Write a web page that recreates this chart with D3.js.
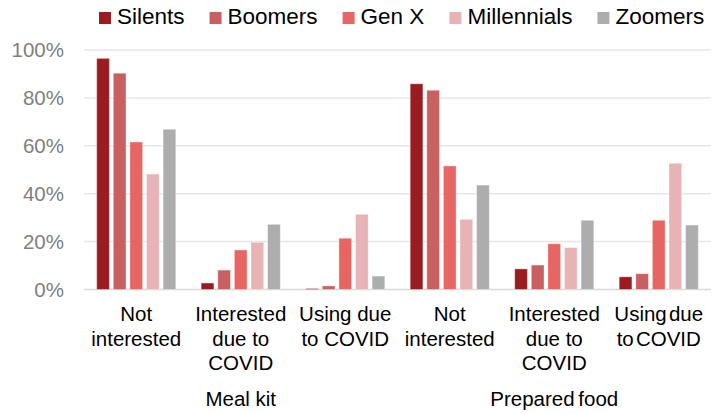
<!DOCTYPE html>
<html>
<head>
<meta charset="utf-8">
<script src="https://cdn.jsdelivr.net/npm/d3@7"></script>
<style>
    body { margin: 0; background: #fff; }
    text { font-family: Arial, "Liberation Sans", sans-serif; }
</style>
</head>
<body>
<div id="chart"></div>
<script>
// generations (series) and their colours
var generations = ["Silents", "Boomers", "Gen X", "Millennials", "Zoomers"];
var colors = ["#9a1c20", "#c86062", "#e76663", "#e8b3b5", "#adadad"];

// x categories, each one a list of text lines
var categories = [
    ["Not", "interested"],
    ["Interested", "due to", "COVID"],
    ["Using due", "to COVID"],
    ["Not", "interested"],
    ["Interested", "due to", "COVID"],
    ["Using due", "to COVID"]
];
var groups = ["Meal kit", "Prepared food"];

// percent values, one list per generation, in category order
var silents     = [96.5, 2.7, 0.4, 85.9, 8.6, 5.3];
var boomers     = [90.3, 8.1, 1.5, 83.2, 10.2, 6.6];
var genX        = [61.6, 16.5, 21.4, 51.6, 19.1, 28.9];
var millennials = [48.2, 19.7, 31.4, 29.3, 17.5, 52.7];
var zoomers     = [66.9, 27.2, 5.6, 43.6, 28.9, 26.9];

var yTicks = [0, 20, 40, 60, 80, 100];

var width = 712, height = 413;
var margin = {top: 50, right: 1, bottom: 123.5, left: 84};

var series = [silents, boomers, genX, millennials, zoomers];

var svg = d3.select("#chart").append("svg")
    .attr("width", width)
    .attr("height", height);

var x0 = d3.scaleBand()
    .domain(d3.range(categories.length))
    .range([margin.left, width - margin.right]);

var x1 = d3.scaleBand()
    .domain(generations)
    .range([0, x0.bandwidth()])
    .paddingInner(0.235)
    .paddingOuter(0.765);

var y = d3.scaleLinear()
    .domain([0, 100])
    .range([height - margin.bottom, margin.top]);

// gridlines
svg.append("g")
    .selectAll("line")
    .data(yTicks)
    .enter()
    .append("line")
        .attr("x1", margin.left)
        .attr("x2", width - margin.right)
        .attr("y1", function(d) { return y(d); })
        .attr("y2", function(d) { return y(d); })
        .attr("stroke", function(d) { return d === 0 ? "#d9d9d9" : "#e6e6e6"; })
        .attr("stroke-width", 1.5);

// y axis labels
var yAxis = d3.axisLeft(y)
    .tickValues(yTicks)
    .tickFormat(function(d) { return d + "%"; })
    .tickSize(0)
    .tickPadding(20);

svg.append("g")
    .attr("transform", "translate(" + margin.left + ",0)")
    .call(yAxis)
    .call(function(g) { g.select(".domain").remove(); })
    .selectAll("text")
        .attr("fill", "#808080")
        .style("font-size", "20.5px");

// bars
var cat = svg.append("g")
    .selectAll("g")
    .data(categories)
    .enter()
    .append("g")
        .attr("transform", function(d, i) { return "translate(" + x0(i) + ",0)"; });

cat.selectAll("rect")
    .data(function(d, i) {
        return generations.map(function(g, k) { return {gen: g, k: k, value: series[k][i]}; });
    })
    .enter()
    .append("rect")
        .attr("x", function(d) { return x1(d.gen); })
        .attr("y", function(d) { return y(d.value); })
        .attr("width", x1.bandwidth())
        .attr("height", function(d) { return y(0) - y(d.value); })
        .attr("fill", function(d) { return colors[d.k]; })
        .attr("stroke", "#fff")
        .attr("stroke-opacity", 0.35)
        .attr("stroke-width", 1);

// category labels (the last one is set tighter, as in the original)
cat.append("text")
    .attr("text-anchor", "middle")
    .style("font-size", "20.5px")
    .style("word-spacing", function(d, i) { return i === 5 ? "-3.5px" : null; })
    .attr("fill", "#000")
    .selectAll("tspan")
    .data(function(d) { return d; })
    .enter()
    .append("tspan")
        .attr("x", x0.bandwidth() / 2)
        .attr("y", function(d, i) { return 321 + i * 24.5; })
        .text(function(d) { return d; });

// group labels
svg.append("g")
    .selectAll("text")
    .data(groups)
    .enter()
    .append("text")
        .attr("x", function(d, i) { return (x0(i * 3) + x0(i * 3 + 2) + x0.bandwidth()) / 2; })
        .attr("y", 406)
        .attr("text-anchor", "middle")
        .style("font-size", "20.5px")
        .style("word-spacing", function(d, i) { return i === 1 ? "-2px" : null; })
        .attr("fill", "#000")
        .text(function(d) { return d; });

// legend
var legend = svg.append("g");
var lx = 99;
generations.forEach(function(g, k) {
    var item = legend.append("g").attr("transform", "translate(" + lx + ",0)");
    item.append("rect")
        .attr("x", 0)
        .attr("y", 12)
        .attr("width", 12)
        .attr("height", 12)
        .attr("fill", colors[k]);
    var t = item.append("text")
        .attr("x", 18)
        .attr("y", 24)
        .style("font-size", "22.5px")
        .attr("fill", "#000")
        .text(g);
    lx += 18 + t.node().getComputedTextLength() + 25;
});
</script>
</body>
</html>
